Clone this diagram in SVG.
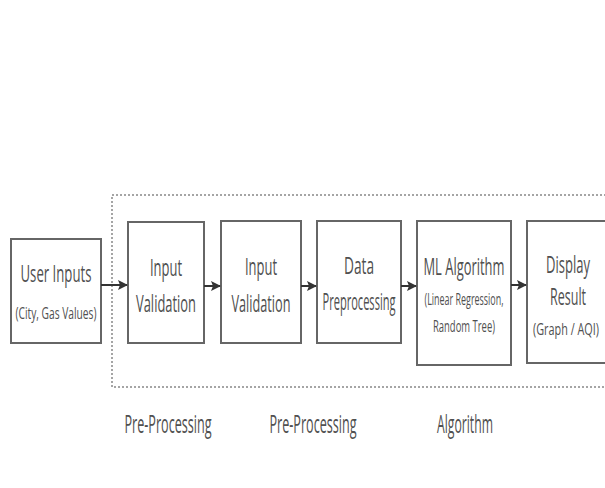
<svg xmlns="http://www.w3.org/2000/svg" width="605" height="488" viewBox="0 0 605 488">
  <defs>
    <marker id="arrow" markerWidth="10" markerHeight="10" refX="9" refY="5" orient="auto" markerUnits="userSpaceOnUse">
      <path d="M0,0 L10,5 L0,10 L2,5 Z" fill="#333"/>
    </marker>
    <style>
      .box { fill: #fff; stroke: #666; stroke-width: 2; }
      .frame { fill: none; stroke: #888; stroke-width: 1.5; stroke-dasharray: 2 2; }
      .conn { stroke: #333; stroke-width: 2; fill: none; marker-end: url(#arrow); }
      text { font-family: "Open Sans", "Liberation Sans", sans-serif; fill: #505050; text-anchor: middle; }
      .t { font-size: 24px; }
      .s { font-size: 17px; }
      .lbl { font-size: 25px; }
    </style>
  </defs>
  <rect width="605" height="488" fill="#fff"/>

  <!-- processing stage frame -->
  <rect class="frame" x="112" y="195" width="510" height="192"/>

  <g id="user-inputs">
    <rect class="box" x="11" y="239" width="90" height="104"/>
    <text class="t" x="56" y="282" textLength="71" lengthAdjust="spacingAndGlyphs">User Inputs</text>
    <text class="s" x="56" y="319" textLength="81" lengthAdjust="spacingAndGlyphs">(City, Gas Values)</text>
  </g>

  <g id="input-validation-1">
    <rect class="box" x="128" y="222" width="76" height="121"/>
    <text class="t" x="166" y="276" textLength="32" lengthAdjust="spacingAndGlyphs">Input</text>
    <text class="t" x="166" y="312" textLength="60" lengthAdjust="spacingAndGlyphs">Validation</text>
  </g>

  <g id="input-validation-2">
    <rect class="box" x="221" y="221" width="80" height="122"/>
    <text class="t" x="261" y="275" textLength="32" lengthAdjust="spacingAndGlyphs">Input</text>
    <text class="t" x="261" y="312" textLength="59" lengthAdjust="spacingAndGlyphs">Validation</text>
  </g>

  <g id="data-preprocessing">
    <rect class="box" x="317" y="221" width="84" height="122"/>
    <text class="t" x="359" y="274" textLength="30" lengthAdjust="spacingAndGlyphs">Data</text>
    <text class="t" x="359" y="310" textLength="73" lengthAdjust="spacingAndGlyphs">Preprocessing</text>
  </g>

  <g id="ml-algorithm">
    <rect class="box" x="417" y="221" width="94" height="144"/>
    <text class="t" x="464" y="275" textLength="81" lengthAdjust="spacingAndGlyphs">ML Algorithm</text>
    <text class="s" x="464" y="305" textLength="79" lengthAdjust="spacingAndGlyphs">(Linear Regression,</text>
    <text class="s" x="464" y="332" textLength="62" lengthAdjust="spacingAndGlyphs">Random Tree)</text>
  </g>

  <g id="display-result">
    <rect class="box" x="527" y="221" width="90" height="142"/>
    <text class="t" x="568" y="273" textLength="44" lengthAdjust="spacingAndGlyphs">Display</text>
    <text class="t" x="568" y="305" textLength="36" lengthAdjust="spacingAndGlyphs">Result</text>
    <text class="s" x="566" y="335" textLength="66" lengthAdjust="spacingAndGlyphs">(Graph / AQI)</text>
  </g>

  <g id="connectors">
    <line class="conn" x1="101" y1="285" x2="127" y2="285"/>
    <line class="conn" x1="204" y1="286" x2="220" y2="286"/>
    <line class="conn" x1="301" y1="286" x2="316" y2="286"/>
    <line class="conn" x1="401" y1="286" x2="416" y2="286"/>
    <line class="conn" x1="511" y1="285" x2="526" y2="285"/>
  </g>

  <g id="stage-labels">
    <text class="lbl" x="168" y="433" textLength="87" lengthAdjust="spacingAndGlyphs">Pre-Processing</text>
    <text class="lbl" x="313" y="433" textLength="87" lengthAdjust="spacingAndGlyphs">Pre-Processing</text>
    <text class="lbl" x="465" y="433" textLength="56" lengthAdjust="spacingAndGlyphs">Algorithm</text>
  </g>
</svg>
